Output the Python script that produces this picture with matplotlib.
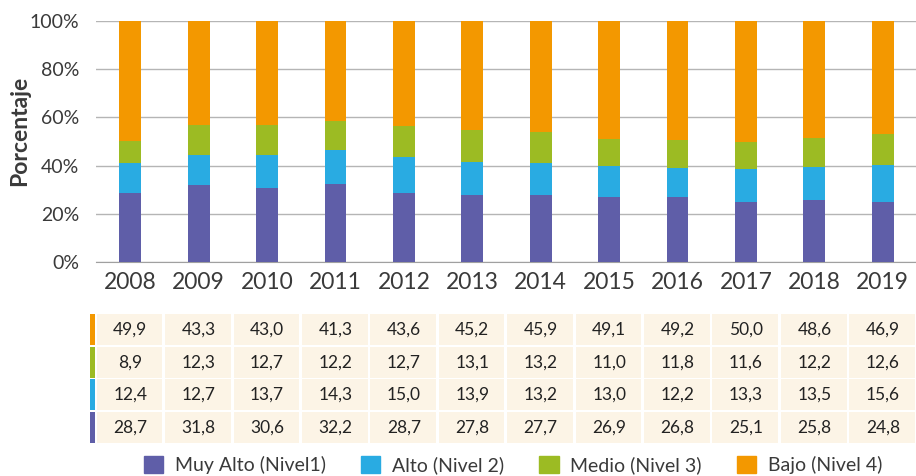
import matplotlib.pyplot as plt
import numpy as np
from matplotlib.patches import Rectangle

years = ['2008', '2009', '2010', '2011', '2012', '2013', '2014', '2015', '2016', '2017', '2018', '2019']
muy_alto = [28.7, 31.8, 30.6, 32.2, 28.7, 27.8, 27.7, 26.9, 26.8, 25.1, 25.8, 24.8]
alto = [12.4, 12.7, 13.7, 14.3, 15.0, 13.9, 13.2, 13.0, 12.2, 13.3, 13.5, 15.6]
medio = [8.9, 12.3, 12.7, 12.2, 12.7, 13.1, 13.2, 11.0, 11.8, 11.6, 12.2, 12.6]
bajo = [49.9, 43.3, 43.0, 41.3, 43.6, 45.2, 45.9, 49.1, 49.2, 50.0, 48.6, 46.9]

labels = ['Muy Alto (Nivel1)', 'Alto (Nivel 2)', 'Medio (Nivel 3)', 'Bajo (Nivel 4)']
colors = ['#5F5EA8', '#29ABE2', '#9CBB23', '#F39800']
series = [muy_alto, alto, medio, bajo]

plt.rcParams['font.family'] = ['Lato', 'DejaVu Sans']
txt = '#3a3a3a'

fig = plt.figure(figsize=(9.16, 4.76), dpi=100)
W, H = 916.0, 476.0

ax = fig.add_axes([96 / W, 1 - 262 / H, 821 / W, 241 / H])
x = np.arange(len(years))
total = np.array(muy_alto) + np.array(alto) + np.array(medio) + np.array(bajo)
bottom = np.zeros(len(years))
for vals, col, lab in zip(series, colors, labels):
    pct = np.array(vals) / total * 100
    ax.bar(x, pct, bottom=bottom, width=0.32, color=col, label=lab, zorder=3)
    bottom += pct

ax.set_xlim(-0.5, len(years) - 0.5)
ax.set_ylim(0, 100)
ax.set_yticks(range(0, 101, 20))
ax.set_yticklabels(['%d%%' % t for t in range(0, 101, 20)], fontsize=14, color=txt)
ax.set_xticks(x)
ax.set_xticklabels(years, fontsize=16.5, color=txt)
ax.tick_params(axis='both', length=0)
ax.tick_params(axis='x', pad=7)
ax.tick_params(axis='y', pad=12)
ax.grid(axis='y', color='#b5b5b5', linewidth=1, zorder=0)
for s in ['top', 'right', 'left']:
    ax.spines[s].set_visible(False)
ax.spines['bottom'].set_color('#a0a0a0')
fig.text(20 / W, 1 - 131 / H, 'Porcentaje', rotation=90, ha='center', va='center',
         fontsize=16.5, fontweight='bold', color=txt)

# data table below
tab = fig.add_axes([88 / W, 1 - 444 / H, 829 / W, 131 / H])
tab.set_xlim(-0.5 - 8 / 68.4, len(years) - 0.5)
tab.set_ylim(0, 4)
tab.axis('off')
rows = [bajo, medio, alto, muy_alto]
row_colors = [colors[3], colors[2], colors[1], colors[0]]
for r, (vals, col) in enumerate(zip(rows, row_colors)):
    yb = 3 - r
    tab.add_patch(Rectangle((-0.5 - 6 / 68.4, yb + 0.03), 5 / 68.4, 0.94, color=col, lw=0))
    for i, v in enumerate(vals):
        tab.add_patch(Rectangle((i - 0.5 + 0.01, yb + 0.03), 0.96, 0.94,
                                facecolor='#FCF4E6', lw=0))
        tab.text(i, yb + 0.5, ('%.1f' % v).replace('.', ','), ha='center', va='center',
                 fontsize=12.5, color='#222222')

handles = [Rectangle((0, 0), 1, 1, color=c) for c in colors]
fig.legend(handles, labels, loc='center', bbox_to_anchor=(0.56, 1 - 465 / H), ncol=4,
           frameon=False, fontsize=14, handlelength=1.0, handleheight=1.0,
           columnspacing=1.8, handletextpad=0.6, labelcolor=txt, borderpad=0)

fig.savefig('out.png', dpi=100)
